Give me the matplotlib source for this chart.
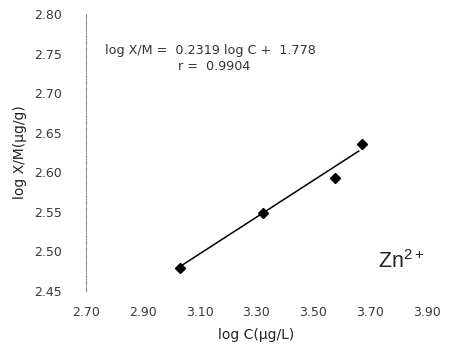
import numpy as np
import matplotlib
matplotlib.use('Agg')
import matplotlib.pyplot as plt

# data
log_c = [3.031, 3.323, 3.576, 3.671]
log_xm = [2.479, 2.548, 2.593, 2.636]
slope, intercept = 0.2319, 1.778
fit_range = [3.031, 3.66]
x_ticks = [2.70, 2.90, 3.10, 3.30, 3.50, 3.70, 3.90]
y_ticks = [2.45, 2.50, 2.55, 2.60, 2.65, 2.70, 2.75, 2.80]


def main():
    plt.rcParams['font.family'] = ['DejaVu Sans']
    plt.rcParams['mathtext.fontset'] = 'custom'
    plt.rcParams['mathtext.rm'] = 'Liberation Sans'
    fig = plt.figure(figsize=(4.59, 3.49), dpi=100)
    ax = fig.add_axes([0.187, 0.166, 0.743, 0.794])

    xf = np.array(fit_range)
    ax.plot(xf, slope * xf + intercept, color='black', lw=1.1)
    ax.plot(log_c, log_xm, 'D', color='black', ms=5.5)

    ax.set_xlim(2.70, 3.90)
    ax.set_ylim(2.45, 2.80)
    ax.set_xticks(x_ticks)
    ax.set_yticks(y_ticks)
    ax.set_xticklabels([f'{v:.2f}' for v in x_ticks])
    ax.set_yticklabels([f'{v:.2f}' for v in y_ticks])
    ax.tick_params(length=0, labelsize=9, colors='#3a3a3a', pad=17)
    ax.tick_params(axis='x', pad=11)

    for s in ['top', 'right', 'bottom']:
        ax.spines[s].set_visible(False)
    ax.spines['left'].set_linestyle((0, (4, 1.5, 1, 1.5)))
    ax.spines['left'].set_linewidth(0.6)
    ax.spines['left'].set_color('#666666')

    ax.set_xlabel('log C(\u03bcg/L)', fontsize=10, color='#222222', labelpad=6)
    ax.set_ylabel('log X/M(\u03bcg/g)', fontsize=10, color='#222222', labelpad=5)

    ax.text(2.768, 2.754, 'log X/M =  0.2319 log C +  1.778', fontsize=9.2,
            color='#333333', va='center')
    ax.text(3.025, 2.734, 'r =  0.9904', fontsize=9.2, color='#333333', va='center')
    ax.text(3.727, 2.488, r'$\mathrm{Zn}^{\mathrm{2+}}$', fontsize=15.5,
            color='#222222', va='center')

    fig.savefig('out.png', dpi=100)


if __name__ == '__main__':
    main()
